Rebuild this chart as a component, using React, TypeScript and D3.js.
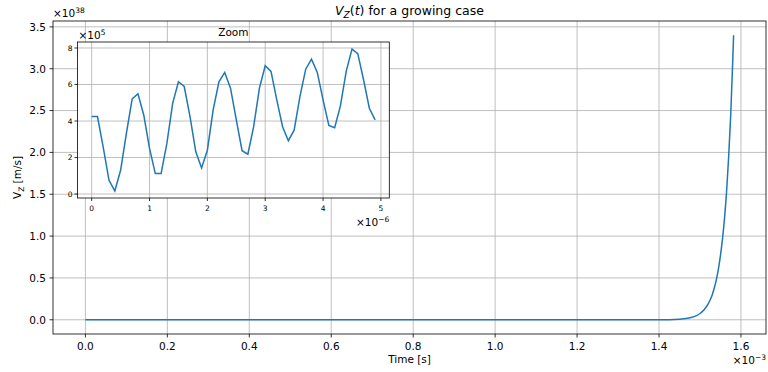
import React from "react";
import * as d3 from "d3";

// Main series: time in ms (×1e-3 s), Vz in ×1e38 m/s
const mainTime = [0, 0.4, 0.8, 1.2, 1.3, 1.4, 1.45, 1.46, 1.47, 1.48, 1.49, 1.5, 1.51, 1.52, 1.525, 1.53, 1.535, 1.54, 1.545, 1.55, 1.555, 1.56, 1.565, 1.57, 1.575, 1.58, 1.582];
const mainVz = [0, 0, 0, 0, 0.0001, 0.0007, 0.0073, 0.0117, 0.0186, 0.03, 0.047, 0.075, 0.12, 0.19, 0.24, 0.3, 0.382, 0.48, 0.609, 0.77, 0.969, 1.22, 1.54, 1.95, 2.45, 3.1, 3.4];

// Zoom series: time in ×1e-6 s, Vz in ×1e5 m/s
const zoomTime = [0, 0.1, 0.2, 0.3, 0.4, 0.5, 0.6, 0.7, 0.8, 0.9, 1.0, 1.1, 1.2, 1.3, 1.4, 1.5, 1.6, 1.7, 1.8, 1.9, 2.0, 2.1, 2.2, 2.3, 2.4, 2.5, 2.6, 2.7, 2.8, 2.9, 3.0, 3.1, 3.2, 3.3, 3.4, 3.5, 3.6, 3.7, 3.8, 3.9, 4.0, 4.1, 4.2, 4.3, 4.4, 4.5, 4.6, 4.7, 4.8, 4.9];
const zoomVz = [4.24, 4.24, 2.55, 0.75, 0.17, 1.3, 3.32, 5.21, 5.49, 4.33, 2.5, 1.12, 1.12, 2.77, 4.97, 6.15, 5.89, 4.24, 2.31, 1.43, 2.4, 4.61, 6.15, 6.66, 5.8, 4.06, 2.37, 2.18, 3.69, 5.8, 7.03, 6.72, 5.16, 3.69, 2.92, 3.5, 5.34, 6.84, 7.39, 6.66, 5.16, 3.76, 3.63, 4.83, 6.72, 7.94, 7.69, 6.26, 4.7, 4.06];

const mainXTicks = [0, 0.2, 0.4, 0.6, 0.8, 1.0, 1.2, 1.4, 1.6];
const mainYTicks = [0, 0.5, 1.0, 1.5, 2.0, 2.5, 3.0, 3.5];
const zoomXTicks = [0, 1, 2, 3, 4, 5];
const zoomYTicks = [0, 2, 4, 6, 8];

const FONT = "DejaVu Sans, sans-serif";
const LINE = "#1f77b4";
const GRID = "#b0b0b0";

export default function App() {
  const W = 768, H = 372;
  const m = { left: 53, right: 766, top: 21, bottom: 334 };
  const z = { left: 77.5, right: 389.3, top: 42, bottom: 198 };

  const xMin = d3.min(mainTime)!, xMax = d3.max(mainTime)!;
  const yMin = d3.min(mainVz)!, yMax = d3.max(mainVz)!;
  const xPad = (xMax - xMin) * 0.05, yPad = (yMax - yMin) * 0.05;
  const x = d3.scaleLinear().domain([xMin - xPad, xMax + xPad]).range([m.left, m.right]);
  const y = d3.scaleLinear().domain([yMin - yPad, yMax + yPad]).range([m.bottom, m.top]);

  const zxMin = d3.min(zoomTime)!, zxMax = d3.max(zoomTime)!;
  const zyMin = d3.min(zoomVz)!, zyMax = d3.max(zoomVz)!;
  const zxPad = (zxMax - zxMin) * 0.05, zyPad = (zyMax - zyMin) * 0.05;
  const zx = d3.scaleLinear().domain([zxMin - zxPad, zxMax + zxPad]).range([z.left, z.right]);
  const zy = d3.scaleLinear().domain([zyMin - zyPad, zyMax + zyPad]).range([z.bottom, z.top]);

  const mainLine = d3.line<number>().x((_, i) => x(mainTime[i])).y((d) => y(d)).curve(d3.curveMonotoneX)(mainVz)!;
  const zoomLine = d3.line<number>().x((_, i) => zx(zoomTime[i])).y((d) => zy(d))(zoomVz)!;

  const cx = (m.left + m.right) / 2;
  const cy = (m.top + m.bottom) / 2;
  const zcx = (z.left + z.right) / 2;

  return (
    <svg width={W} height={H} style={{ position: "absolute", left: 0, top: 0, background: "#fff" }} fontFamily={FONT}>
      <rect width={W} height={H} fill="#fff" />
      {/* main grid */}
      {mainXTicks.map((t) => (
        <line key={"gx" + t} x1={x(t)} x2={x(t)} y1={m.top} y2={m.bottom} stroke={GRID} strokeWidth={0.8} />
      ))}
      {mainYTicks.map((t) => (
        <line key={"gy" + t} x1={m.left} x2={m.right} y1={y(t)} y2={y(t)} stroke={GRID} strokeWidth={0.8} />
      ))}
      <path d={mainLine} fill="none" stroke={LINE} strokeWidth={1.5} />
      <rect x={m.left} y={m.top} width={m.right - m.left} height={m.bottom - m.top} fill="none" stroke="#000" strokeWidth={0.8} />
      {/* main ticks */}
      {mainXTicks.map((t) => (
        <g key={"tx" + t}>
          <line x1={x(t)} x2={x(t)} y1={m.bottom} y2={m.bottom + 3.5} stroke="#000" strokeWidth={0.8} />
          <text x={x(t)} y={m.bottom + 16} fontSize={10.5} textAnchor="middle" fill="#000">{t.toFixed(1)}</text>
        </g>
      ))}
      {mainYTicks.map((t) => (
        <g key={"ty" + t}>
          <line x1={m.left - 3.5} x2={m.left} y1={y(t)} y2={y(t)} stroke="#000" strokeWidth={0.8} />
          <text x={m.left - 7} y={y(t) + 3.8} fontSize={10.5} textAnchor="end" fill="#000">{t.toFixed(1)}</text>
        </g>
      ))}
      {/* offsets */}
      <text x={m.left} y={17} fontSize={10.5} fill="#000">
        ×10<tspan dy={-4} fontSize={7.5}>38</tspan>
      </text>
      <text x={m.right} y={364} fontSize={10.5} textAnchor="end" fill="#000">
        ×10<tspan dy={-4} fontSize={7.5}>−3</tspan>
      </text>
      {/* labels */}
      <text x={cx} y={363} fontSize={10.5} textAnchor="middle" fill="#000">Time [s]</text>
      <text transform={`translate(21,${cy}) rotate(-90)`} fontSize={10.5} textAnchor="middle" fill="#000">
        V<tspan dy={3} fontSize={7.5}>Z</tspan><tspan dy={-3}> [m/s]</tspan>
      </text>
      <text x={cx} y={15} fontSize={12.5} textAnchor="middle" fill="#000">
        <tspan fontStyle="italic">V</tspan><tspan dy={3} fontSize={9} fontStyle="italic">Z</tspan><tspan dy={-3}>(</tspan><tspan fontStyle="italic">t</tspan><tspan>) for a growing case</tspan>
      </text>

      {/* inset */}
      <rect x={z.left} y={z.top} width={z.right - z.left} height={z.bottom - z.top} fill="#fff" />
      {zoomXTicks.map((t) => (
        <line key={"zgx" + t} x1={zx(t)} x2={zx(t)} y1={z.top} y2={z.bottom} stroke={GRID} strokeWidth={0.8} />
      ))}
      {zoomYTicks.map((t) => (
        <line key={"zgy" + t} x1={z.left} x2={z.right} y1={zy(t)} y2={zy(t)} stroke={GRID} strokeWidth={0.8} />
      ))}
      <path d={zoomLine} fill="none" stroke={LINE} strokeWidth={1.5} />
      <rect x={z.left} y={z.top} width={z.right - z.left} height={z.bottom - z.top} fill="none" stroke="#000" strokeWidth={0.8} />
      {zoomXTicks.map((t) => (
        <g key={"ztx" + t}>
          <line x1={zx(t)} x2={zx(t)} y1={z.bottom} y2={z.bottom + 3} stroke="#000" strokeWidth={0.8} />
          <text x={zx(t)} y={z.bottom + 12.5} fontSize={7.5} textAnchor="middle" fill="#000">{t}</text>
        </g>
      ))}
      {zoomYTicks.map((t) => (
        <g key={"zty" + t}>
          <line x1={z.left - 3} x2={z.left} y1={zy(t)} y2={zy(t)} stroke="#000" strokeWidth={0.8} />
          <text x={z.left - 5} y={zy(t) + 2.7} fontSize={7.5} textAnchor="end" fill="#000">{t}</text>
        </g>
      ))}
      <text x={z.left + 1} y={38.5} fontSize={10.5} fill="#000">
        ×10<tspan dy={-4} fontSize={7.5}>5</tspan>
      </text>
      <text x={z.right} y={226} fontSize={10.5} textAnchor="end" fill="#000">
        ×10<tspan dy={-4} fontSize={7.5}>−6</tspan>
      </text>
      <text x={zcx} y={35.5} fontSize={10.5} textAnchor="middle" fill="#000">Zoom</text>
    </svg>
  );
}
